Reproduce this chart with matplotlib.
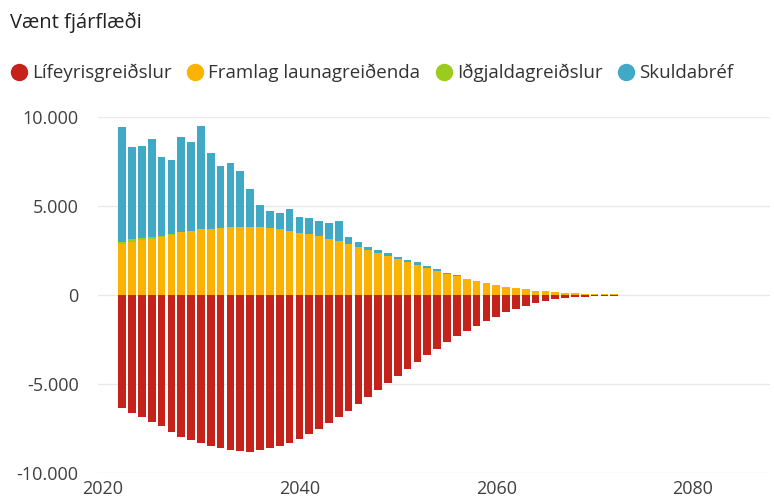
import numpy as np
import matplotlib.pyplot as plt
from matplotlib.lines import Line2D
from matplotlib.ticker import FuncFormatter

plt.rcParams['font.family'] = ['Open Sans', 'DejaVu Sans']

years = list(range(2022, 2080))

# Lífeyrisgreiðslur (pension payments, negative)
lifeyri = [-6330, -6610, -6870, -7130, -7360, -7680, -7960, -8150, -8300, -8460,
           -8600, -8710, -8780, -8800, -8710, -8610, -8480, -8300, -8070, -7810,
           -7530, -7210, -6870, -6520, -6140, -5750, -5340, -4960, -4550, -4180,
           -3760, -3390, -3010, -2660, -2320, -2000, -1720, -1440, -1220, -980,
           -780, -600, -450, -340, -250, -180, -130, -95, -70, -50,
           -38, -28, -20, -15, -11, -8, -6, -4]

# Framlag launagreiðenda
framlag = [2850, 3000, 3080, 3150, 3270, 3380, 3520, 3600, 3690, 3730,
           3760, 3800, 3820, 3820, 3800, 3780, 3730, 3610, 3500, 3430,
           3310, 3160, 3020, 2870, 2710, 2530, 2380, 2190, 2000, 1850,
           1690, 1520, 1370, 1180, 1070, 920, 790, 660, 560, 470,
           370, 310, 240, 200, 160, 115, 90, 70, 55, 42,
           32, 25, 18, 13, 10, 7, 5, 3]

# Iðgjaldagreiðslur
idgjald = [150, 120, 100, 80, 60, 45, 30, 15, 5] + [0] * 49

# Skuldabréf
skuld = [6460, 5210, 5210, 5550, 4400, 4155, 5310, 4985, 5815, 4230,
         3490, 3600, 3130, 2120, 1260, 960, 900, 1200, 900, 880,
         850, 870, 1120, 370, 290, 190, 120, 150, 150, 120,
         150, 130, 70, 70, 30] + [0] * 23

labels = ['Lífeyrisgreiðslur', 'Framlag launagreiðenda', 'Iðgjaldagreiðslur', 'Skuldabréf']
colors = ['#C4221A', '#FBB200', '#9BCB1C', '#3FA9C6']

fig = plt.figure(figsize=(7.74, 5.01), dpi=100)
ax = fig.add_axes([0.1266, 0.0559, 0.868, 0.7106])

x = np.array(years)
fr = np.array(framlag)
ig = np.array(idgjald)
w = 0.78
ax.bar(x, lifeyri, width=w, color=colors[0], zorder=2)
ax.bar(x, fr, width=w, color=colors[1], zorder=2)
ax.bar(x, ig, width=w, bottom=fr, color=colors[2], zorder=2)
ax.bar(x, skuld, width=w, bottom=fr + ig, color=colors[3], zorder=2)

ax.set_ylim(-10000, 10000)
ax.set_xlim(2019.54, 2087.8)
ax.set_yticks([-10000, -5000, 0, 5000, 10000])
ax.set_xticks([2020, 2040, 2060, 2080])
ax.yaxis.set_major_formatter(FuncFormatter(lambda v, p: f'{int(v):,}'.replace(',', '.')))
ax.grid(axis='y', color='#EAEAEA', linewidth=1, zorder=0)
for s in ax.spines.values():
    s.set_visible(False)
ax.tick_params(length=0, labelsize=13, colors='#404040')
ax.tick_params(axis='y', pad=14)
ax.tick_params(axis='x', pad=5)

fig.text(0.013, 0.956, 'Vænt fjárflæði', fontsize=14.5, color='#222222', va='center')

handles = [Line2D([], [], marker='o', linestyle='', markersize=11.5, color=c) for c in colors]
fig.legend(handles, labels, loc='center left', bbox_to_anchor=(0.004, 0.854), ncol=4,
           frameon=False, fontsize=13.5, handletextpad=0.25, columnspacing=0.8,
           handlelength=0.9, labelcolor='#333333', borderaxespad=0)

fig.savefig('out.png', dpi=100)
